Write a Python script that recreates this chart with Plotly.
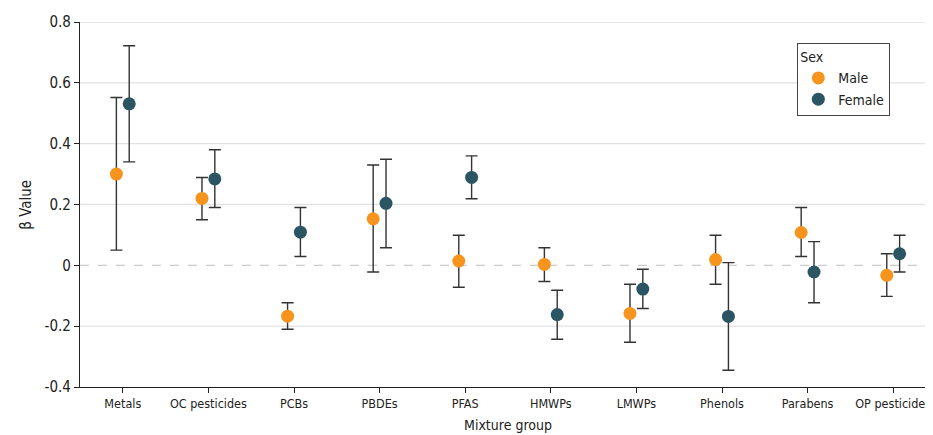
import plotly.graph_objects as go

categories = ["Metals", "OC pesticides", "PCBs", "PBDEs", "PFAS", "HMWPs",
              "LMWPs", "Phenols", "Parabens", "OP pesticides"]
male_beta = [0.30, 0.22, -0.167, 0.153, 0.014, 0.003, -0.158, 0.019, 0.108, -0.033]
male_low = [0.05, 0.15, -0.21, -0.022, -0.072, -0.053, -0.253, -0.062, 0.029, -0.102]
male_high = [0.552, 0.289, -0.123, 0.33, 0.099, 0.058, -0.062, 0.099, 0.19, 0.038]
female_beta = [0.531, 0.284, 0.109, 0.204, 0.289, -0.162, -0.078, -0.168, -0.022, 0.038]
female_low = [0.34, 0.19, 0.029, 0.058, 0.219, -0.243, -0.142, -0.345, -0.123, -0.022]
female_high = [0.722, 0.38, 0.19, 0.349, 0.36, -0.082, -0.013, 0.009, 0.078, 0.099]
y_ticks = [-0.4, -0.2, 0, 0.2, 0.4, 0.6, 0.8]
y_ticktext = ["-0.4", "-0.2", "0", "0.2", "0.4", "0.6", "0.8"]

FONT = "DejaVu Sans Condensed, Liberation Sans Narrow, Roboto, sans-serif"
offset = 0.075
idx = list(range(len(categories)))

fig = go.Figure()


def add_series(name, beta, low, high, color, shift):
    fig.add_trace(go.Scatter(
        x=[i + shift for i in idx], y=beta, mode="markers", name=name,
        marker=dict(color=color, size=13, line=dict(width=0)),
        error_y=dict(type="data", symmetric=False,
                     array=[h - b for h, b in zip(high, beta)],
                     arrayminus=[b - l for b, l in zip(beta, low)],
                     color="#333333", thickness=1.4, width=6),
        hoverinfo="skip",
    ))


add_series("Male", male_beta, male_low, male_high, "#F7941D", -offset)
add_series("Female", female_beta, female_low, female_high, "#2B5563", offset)

shapes = []
for v in y_ticks:
    if v == y_ticks[0]:
        continue
    shapes.append(dict(type="line", xref="paper", yref="y", x0=0, x1=1, y0=v, y1=v,
                       layer="below",
                       line=dict(color="#cccccc" if v == 0 else "#e2e2e2",
                                 width=1.3, dash="dash" if v == 0 else "solid")))

fig.update_layout(
    width=933, height=435,
    margin=dict(l=72, r=5, t=14, b=56, autoexpand=False),
    paper_bgcolor="white", plot_bgcolor="white",
    font=dict(family=FONT, size=14, color="#222222"),
    shapes=shapes,
    showlegend=True,
    legend=dict(
        title=dict(text="Sex", font=dict(family=FONT, size=14)),
        x=0.838, y=0.942, xanchor="left", yanchor="top",
        bordercolor="#444444", borderwidth=1, bgcolor="white",
        font=dict(family=FONT, size=14), itemwidth=30,
        tracegroupgap=0,
    ),
    annotations=[dict(
        text="β Value", textangle=-90, xref="paper", yref="paper",
        x=-0.064, y=0.5, xanchor="center", yanchor="middle", showarrow=False,
        font=dict(family=FONT, size=15, color="#222222"),
    )],
    xaxis=dict(
        range=[-0.5, len(categories) - 0.5],
        tickmode="array", tickvals=idx, ticktext=categories,
        showgrid=False, zeroline=False,
        showline=True, linecolor="#222222", linewidth=1.3,
        ticks="outside", ticklen=5, tickcolor="#222222",
        tickfont=dict(family=FONT, size=12.5),
        automargin=False,
        title=dict(text="Mixture group", font=dict(family=FONT, size=14), standoff=10),
    ),
    yaxis=dict(
        range=[-0.4, 0.8],
        tickmode="array", tickvals=y_ticks, ticktext=y_ticktext,
        showgrid=False, zeroline=False,
        showline=True, linecolor="#222222", linewidth=1.3,
        ticks="outside", ticklen=5, tickcolor="#222222",
        tickfont=dict(family=FONT, size=15),
        automargin=False,
    ),
)

fig.write_html("out.html")
